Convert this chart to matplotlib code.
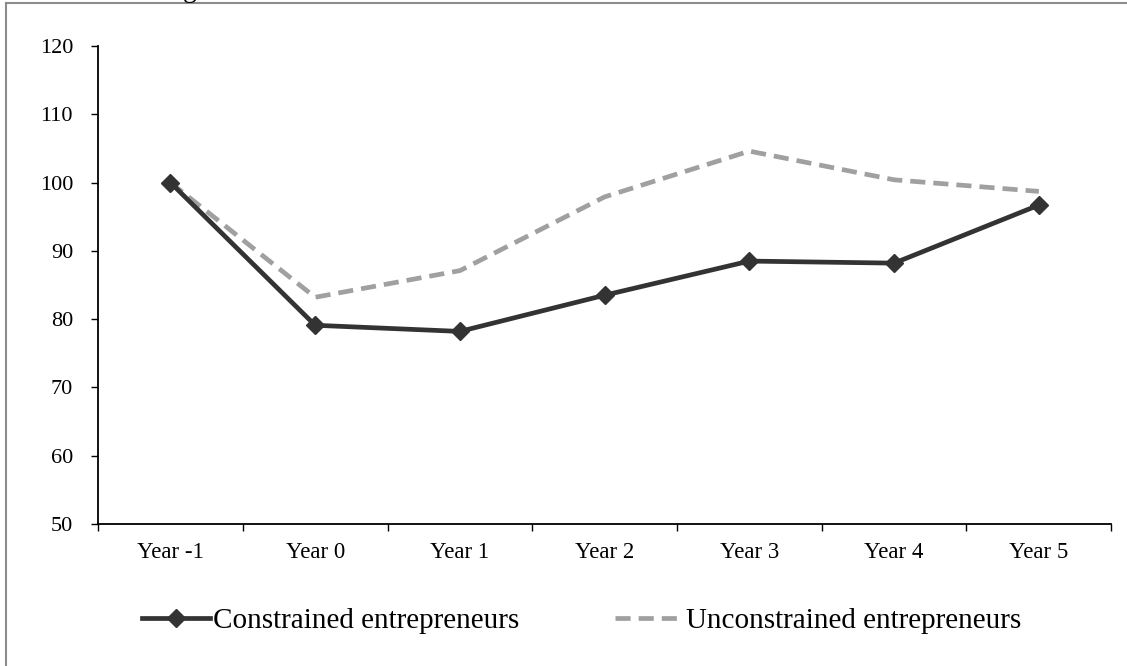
import matplotlib
matplotlib.use('Agg')
import matplotlib.pyplot as plt
from matplotlib.lines import Line2D

plt.rcParams['font.family'] = ['Liberation Serif', 'DejaVu Serif']

# data
years = ['Year -1', 'Year 0', 'Year 1', 'Year 2', 'Year 3', 'Year 4', 'Year 5']
constrained = [100.0, 79.1, 78.2, 83.5, 88.5, 88.2, 96.7]
unconstrained = [100.0, 83.2, 87.1, 97.9, 104.6, 100.4, 98.7]

fig = plt.figure(figsize=(11.27, 6.66), dpi=100)
ax = fig.add_axes([0.087, 0.2132, 0.899, 0.7178])

x = list(range(len(years)))
ax.plot(x, constrained, color='#333333', lw=3.4, marker='D', ms=9,
        label='Constrained entrepreneurs', zorder=3)
ax.plot(x, unconstrained, color='#a0a0a0', lw=3.4, dashes=(3.2, 1.7),
        label='Unconstrained entrepreneurs', zorder=2)

ax.set_ylim(50, 120)
ax.set_yticks(range(50, 121, 10))
ax.set_xlim(-0.5, len(years) - 0.5)
ax.set_xticks([i - 0.5 for i in range(len(years) + 1)])
ax.set_xticklabels([])
ax.set_xticks(x, minor=True)
ax.set_xticklabels(years, minor=True)

for s in ['top', 'right']:
    ax.spines[s].set_visible(False)
for s in ['left', 'bottom']:
    ax.spines[s].set_linewidth(1.3)

ax.tick_params(axis='y', which='major', direction='out', length=5, width=1,
               labelsize=16, pad=13)
ax.tick_params(axis='x', which='major', direction='out', length=5, width=1)
ax.tick_params(axis='x', which='minor', length=0, labelsize=16.5, pad=13)

fig.legend(loc='center', bbox_to_anchor=(0.516, 0.068), ncol=2, frameon=False,
           fontsize=21, handlelength=2.33, handletextpad=0.1, columnspacing=3.3)

# outer chart frame (gray), only top and left visible in the crop
fig.add_artist(Line2D([0.0053, 1.0], [0.9955, 0.9955], color='#8c8c8c', lw=1.5,
                      transform=fig.transFigure))
fig.add_artist(Line2D([0.0053, 0.0053], [0.0, 0.9955], color='#8c8c8c', lw=1.5,
                      transform=fig.transFigure))

# cut-off fragment of the title above the frame
fig.text(0.168, 1.004, 'g', fontsize=20, va='baseline', ha='center')

fig.savefig('out.png', dpi=100)
